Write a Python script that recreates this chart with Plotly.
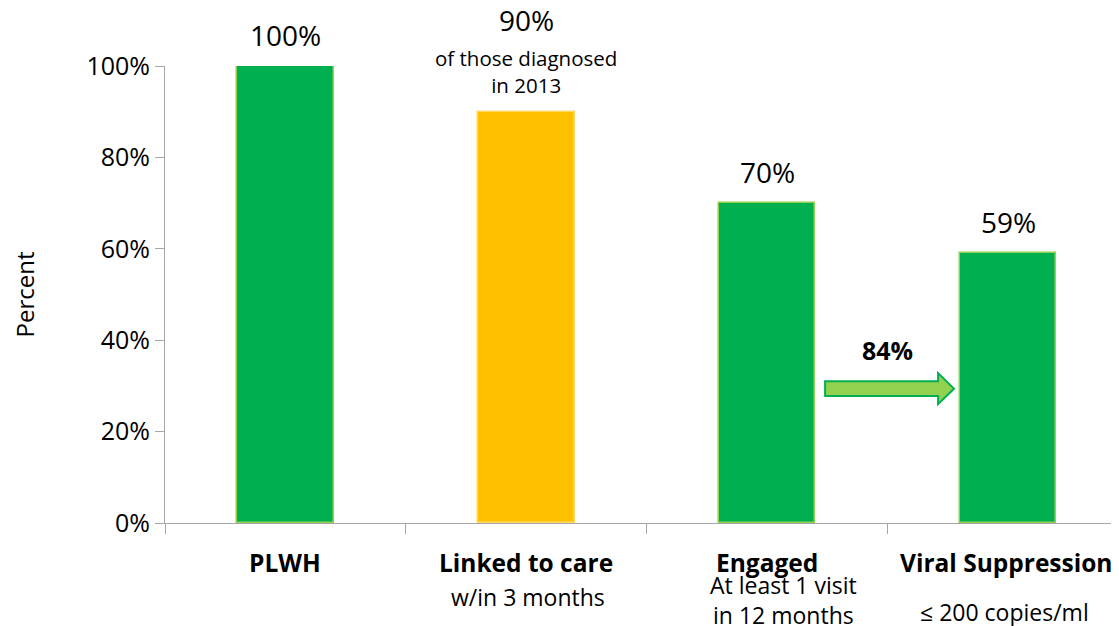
import plotly.graph_objects as go

# Datos
categorias = ["PLWH", "Linked to care", "Engaged", "Viral Suppression"]
subtitulos = ["", "w/in 3 months", "At least 1 visit<br>in 12 months", "≤ 200 copies/ml"]
valores = [100, 90, 70, 59]
etiquetas = ["100%", "90%", "70%", "59%"]
nota_90 = "of those diagnosed<br>in 2013"
retencion = "84%"

colores = ["#00B050", "#FFC000", "#00B050", "#00B050"]
bordes = ["#92D050", "#FFD966", "#92D050", "#92D050"]

FUENTE = "Open Sans"
ancho_barra = 0.4

fig = go.Figure()
fig.add_trace(go.Bar(
    x=list(range(len(categorias))),
    y=valores,
    width=ancho_barra,
    marker=dict(color=colores, line=dict(color=bordes, width=1.5)),
    hoverinfo="skip",
    showlegend=False,
))

anotaciones = []
# etiquetas de valor
for i, (v, t) in enumerate(zip(valores, etiquetas)):
    shift = 92 if i == 1 else 31
    anotaciones.append(dict(x=i, y=v, xref="x", yref="y", text=t, showarrow=False,
                            yshift=shift, font=dict(size=28, color="black")))
anotaciones.append(dict(x=1, y=valores[1], xref="x", yref="y", text=nota_90, showarrow=False,
                        yshift=40, font=dict(size=20.5, color="black")))

# categorias abajo
for i, (c, s) in enumerate(zip(categorias, subtitulos)):
    anotaciones.append(dict(x=i, y=0, xref="x", yref="y", text="<b>" + c + "</b>",
                            showarrow=False, yshift=-39, xshift=[0, 0, 0, -2][i],
                            font=dict(size=24.5, color="black")))
    if s:
        anotaciones.append(dict(x=i, y=0, xref="x", yref="y", text=s, showarrow=False,
                                yshift=[0, -74, -77, -89][i], xshift=[0, 2, 16, -4][i],
                                font=dict(size=23, color="black")))

# flecha de retencion entre Engaged y Viral Suppression
x0 = 2 + ancho_barra / 2 + 0.04
x1 = 3 - ancho_barra / 2 - 0.025
xh = x1 - 0.066
yc, ys, yh = 29.4, 1.6, 3.4
ruta = (f"M {x0},{yc-ys} L {xh},{yc-ys} L {xh},{yc-yh} L {x1},{yc} "
        f"L {xh},{yc+yh} L {xh},{yc+ys} L {x0},{yc+ys} Z")
fig.add_shape(type="path", path=ruta, xref="x", yref="y",
              fillcolor="#92D050", line=dict(color="#00B050", width=2))
anotaciones.append(dict(x=(x0 + x1) / 2 - 0.01, y=37.9, xref="x", yref="y",
                        text="<b>" + retencion + "</b>", showarrow=False,
                        font=dict(size=25, color="black")))

# la pagina tiene 8px de margen en body, se descuenta del tamaño
fig.update_layout(
    width=1111, height=618,
    margin=dict(l=157, r=0, t=58, b=103),
    paper_bgcolor="white", plot_bgcolor="white",
    font=dict(family=FUENTE, color="black"),
    annotations=anotaciones,
    bargap=0,
    xaxis=dict(
        range=[-0.5, 3.46],
        tickmode="array", tickvals=[-0.5, 0.5, 1.5, 2.5, 3.5],
        showticklabels=False,
        ticks="outside", ticklen=10, tickcolor="#A6A6A6",
        showline=True, linecolor="#A6A6A6", linewidth=1,
        showgrid=False, zeroline=False, fixedrange=True,
    ),
    yaxis=dict(
        range=[0, 100], dtick=20, ticksuffix="%",
        ticks="outside", ticklen=9, tickcolor="#A6A6A6",
        showline=True, linecolor="#A6A6A6", linewidth=1,
        showgrid=False, zeroline=False,
        tickfont=dict(size=25, color="black"),
        title=dict(text="Percent", font=dict(size=24, color="black"), standoff=50),
    ),
)

fig.write_html("out.html")
